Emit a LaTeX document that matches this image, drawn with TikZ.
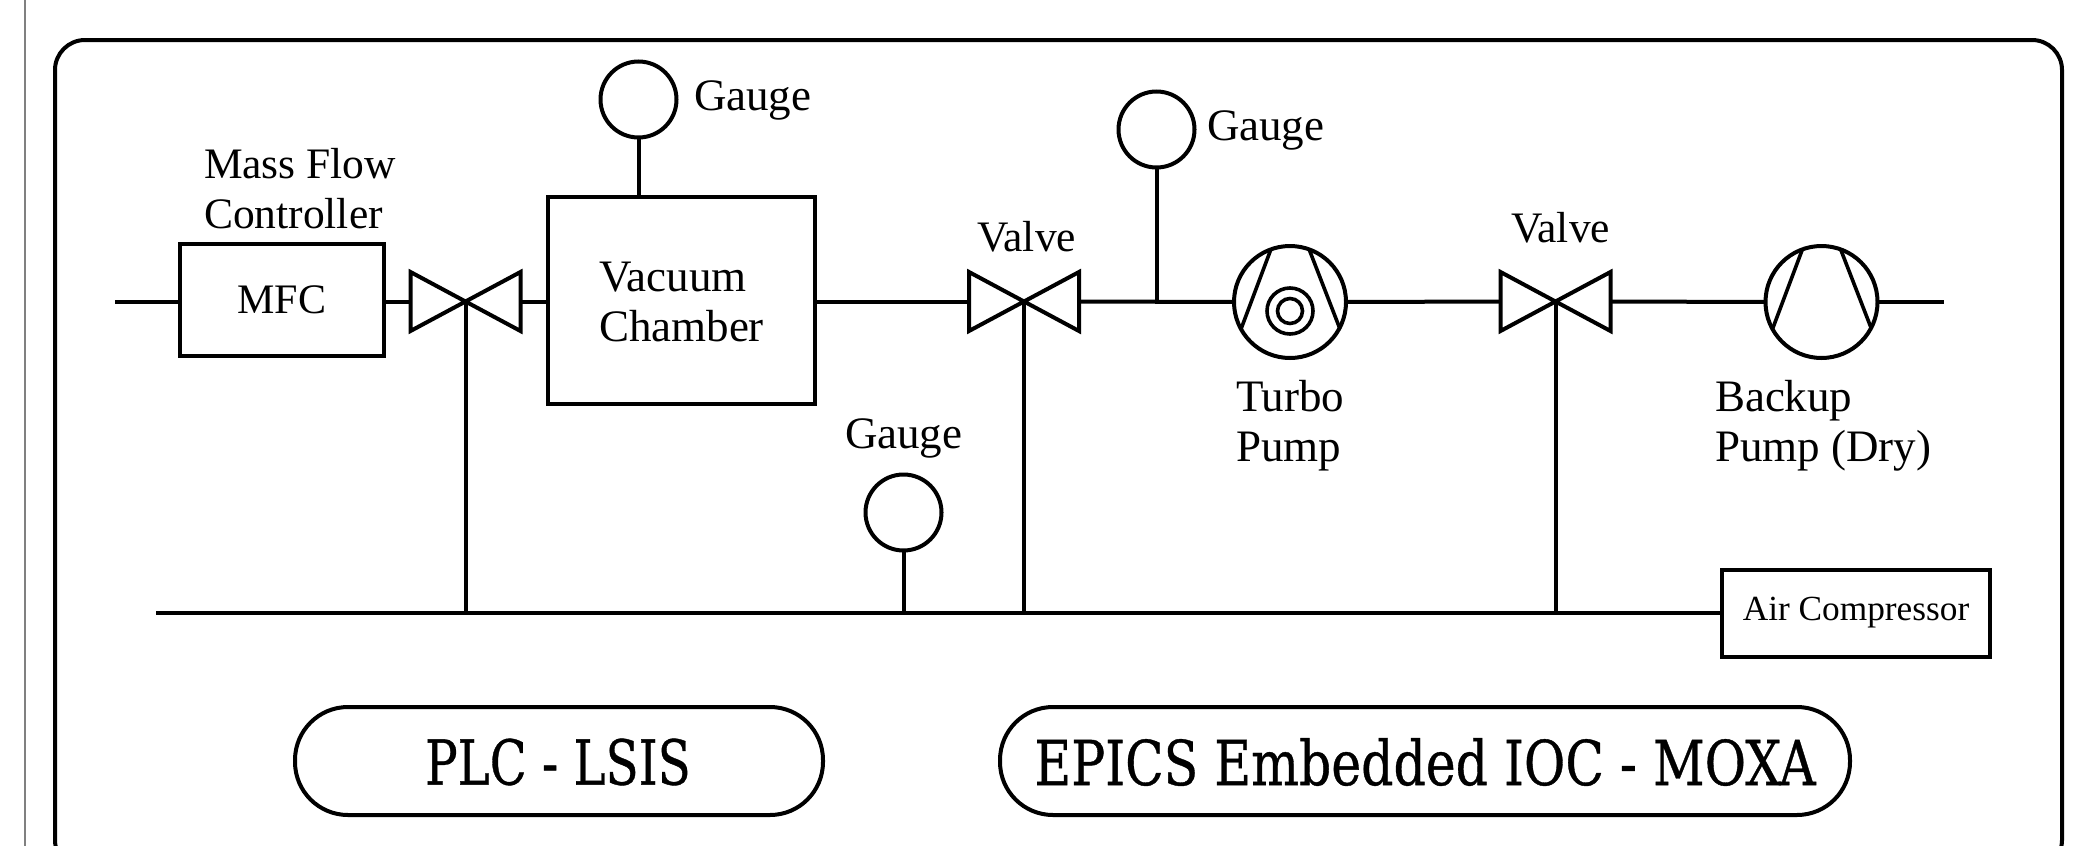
\documentclass[tikz,border=0pt]{standalone}
\usepackage{fontspec}
\setmainfont{Liberation Serif}
\newfontfamily\bigfont[FakeBold=0.6]{DejaVu Serif Condensed}
\begin{document}
\begin{tikzpicture}[x=1pt,y=-1pt,
  ln/.style={line width=4pt,line cap=butt},
  boxn/.style={draw,line width=4pt,inner sep=0pt,outer sep=0pt,align=left},
  gauge/.style={draw,circle,line width=4pt,minimum size=76pt,inner sep=0pt,outer sep=0pt},
  pump/.style={draw,circle,line width=4pt,minimum size=112pt,inner sep=0pt,outer sep=0pt},
  pill/.style={draw,rounded corners=53pt,line width=4pt,inner sep=0pt,outer sep=0pt},
  txt/.style={inner sep=0pt,outer sep=0pt,align=left,font=\fontsize{45}{50}\selectfont},
  txtb/.style={inner sep=0pt,outer sep=0pt,align=left,font=\fontsize{43.5}{50}\selectfont},
  bigtxt/.style={inner sep=0pt,font=\bigfont\fontsize{62}{70}\selectfont}]
\useasboundingbox (0,0) rectangle (2091,846);
\clip (0,0) rectangle (2091,846);
\fill[white] (0,0) rectangle (2091,846);
% page edge and frame
\draw[line width=1.5pt,gray] (25,0) -- (25,846);
\draw[line width=4pt,rounded corners=30pt] (55,40) rectangle (2062,870);

% equipment
\node[boxn,minimum width=204pt,minimum height=112pt,font=\fontsize{42}{50}\selectfont] (mfc) at (282,300) {MFC};
\node[boxn,minimum width=267pt,minimum height=207pt] (vc) at (681.5,300.5) {};
\node[txt,anchor=west] (vclabel) at (599,302) {Vacuum\\Chamber};
\node[gauge] (g1) at (638.5,99.5) {};
\node[gauge] (g2) at (1156.5,129.5) {};
\node[gauge] (g3) at (903.5,512.5) {};
\node[pump] (tp) at (1290,302) {};
\node[pump] (bp) at (1821.5,302) {};
\node[boxn,minimum width=268pt,minimum height=87pt,font=\fontsize{35.3}{40}\selectfont] (ac) at (1856,613) {Air Compressor};

% valves
\foreach \n/\cx in {v1/465.5,v2/1024,v3/1555.5}{
  \coordinate (\n) at (\cx,301.5);
  \coordinate (\n w) at (\cx-55,301.5);
  \coordinate (\n e) at (\cx+55,301.5);
  \draw[ln,line join=miter] (\n) -- (\cx-55,272) -- (\cx-55,331) -- cycle;
  \draw[ln,line join=miter] (\n) -- (\cx+55,272) -- (\cx+55,331) -- cycle;
}
% pump blades and rotor
\foreach \p in {tp,bp}{
  \draw[line width=3.6pt] ([shift={(-19,-53)}]\p.center) -- ([shift={(-49,27)}]\p.center);
  \draw[line width=3.6pt] ([shift={(19,-53)}]\p.center) -- ([shift={(50,27)}]\p.center);
}
\node[draw,circle,line width=3.6pt,minimum size=46pt,inner sep=0pt] (r1) at (1290,311) {};
\node[draw,circle,line width=3.6pt,minimum size=25pt,inner sep=0pt] (r2) at (1290,311) {};

% connectors
\coordinate (inl) at (115,301.5);
\coordinate (outl) at (1944,302);
\coordinate (busl) at (156,613);
\coordinate (tee) at (1156.5,302);
\draw[ln] (inl) -- (mfc.west |- inl);
\draw[ln] (mfc.east |- inl) -- (v1w);
\draw[ln] (v1e) -- (vc.west |- v1e);
\draw[ln] (vc.east |- v2w) -- (v2w);
\draw[ln] (v2e) -- (tp.west);
\draw[ln] (tp.east) -- (v3w);
\draw[ln] (v3e) -- (bp.west);
\draw[ln] (bp.east) -- (outl);
\draw[ln] (g1.south) -- (g1.south |- vc.north);
\draw[ln] (g2.south) -- (tee);
\draw[ln] (g3.south) -- (g3.south |- ac.west);
\draw[ln] (busl) -- (ac.west);
\draw[ln] (v1) -- (v1 |- ac.west);
\draw[ln] (v2) -- (v2 |- ac.west);
\draw[ln] (v3) -- (v3 |- ac.west);

% labels
\node[txt,anchor=base west] (l1) at (694,110) {Gauge};
\node[txt,anchor=base west] (l2) at (1207,140) {Gauge};
\node[txt,anchor=base west] (l3) at (845,448) {Gauge};
\node[txtb,anchor=base west] (l4) at (977,251) {Valve};
\node[txtb,anchor=base west] (l5) at (1511,242) {Valve};
\node[txtb,anchor=west] (l6) at (204,189) {Mass Flow\\Controller};
\node[txt,anchor=west] (l7) at (1236,426) {Turbo\\Pump};
\node[txt,anchor=west] (l8) at (1715,426) {Backup\\Pump (Dry)};

% controllers
\node[pill,minimum width=528pt,minimum height=108pt] (plc) at (559,761) {};
\node[pill,minimum width=850pt,minimum height=108pt] (ioc) at (1425,761) {};
\node[bigtxt] (plct) at (558,762) {\scalebox{0.865}[1]{PLC - LSIS}};
\node[bigtxt] (ioct) at (1425,762) {\scalebox{0.905}[1]{EPICS Embedded IOC - MOXA}};
\end{tikzpicture}
\end{document}
